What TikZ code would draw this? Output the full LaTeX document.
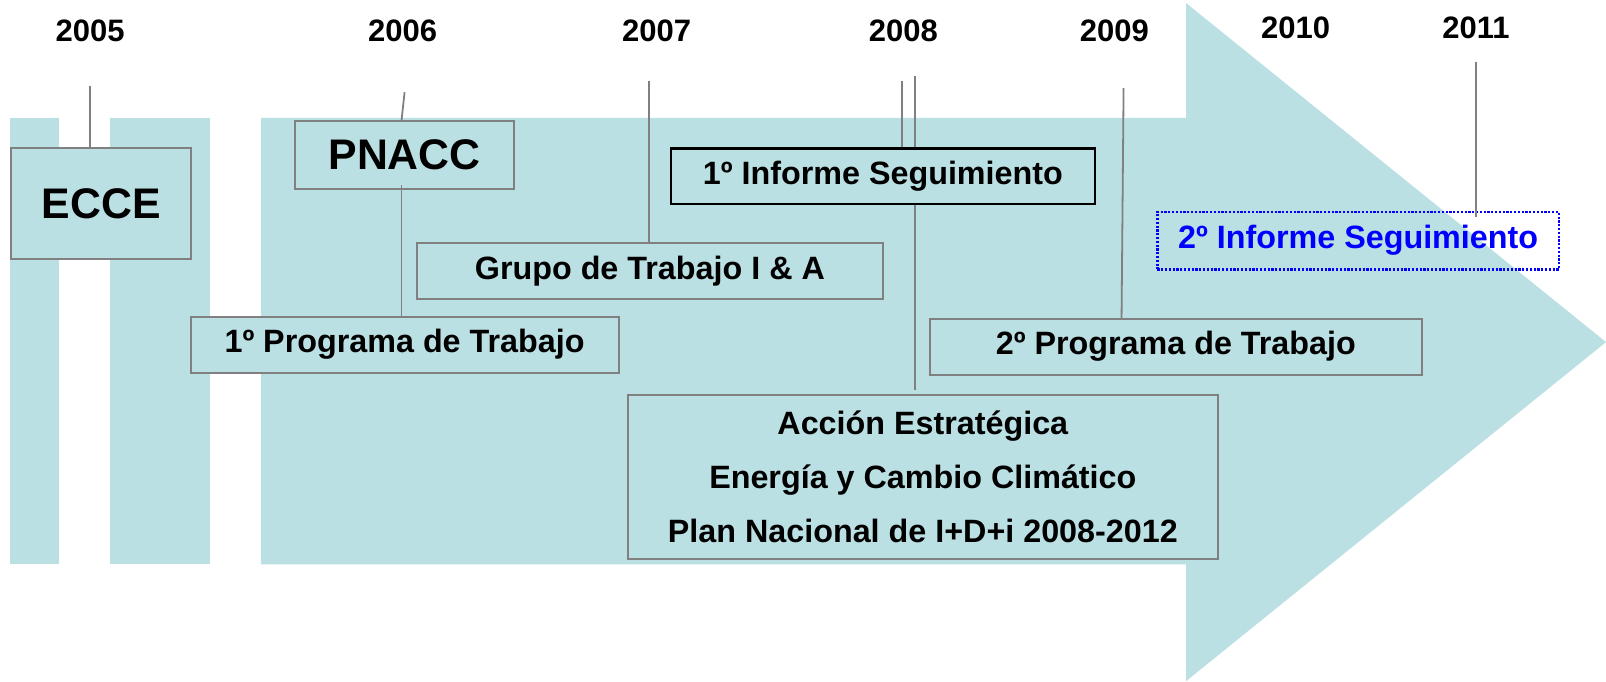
\documentclass[tikz,border=0pt]{standalone}
\usepackage{fontspec}
\setmainfont{Liberation Sans}
\definecolor{bg}{RGB}{187,224,227}
\definecolor{boxgray}{RGB}{128,128,128}
\definecolor{infblue}{RGB}{0,0,255}
\begin{document}
\begin{tikzpicture}[x=1.02423pt,y=-1.02423pt,
  year/.style={font=\fontsize{31}{37}\selectfont\bfseries, inner sep=0},
  evbox/.style={draw=boxgray, line width=2pt, fill=bg, inner sep=0,
    font=\fontsize{32.3}{38}\selectfont\bfseries, align=center},
  bigbox/.style={evbox, font=\fontsize{42.8}{50}\selectfont\bfseries},
  conn/.style={draw=boxgray, line width=1.8pt}]
\useasboundingbox (0,0) rectangle (1568,665);
% background
\fill[bg] (10,115) rectangle (58,551);
\fill[bg] (107,115) rectangle (205,551);
\fill[bg] (255,115) -- (1158,115) -- (1158,3) -- (1568,334) -- (1158,665) -- (1158,551) -- (255,551) -- cycle;
% years
\node[year] (y05) at (88,30) {2005};
\node[year] (y06) at (393,30) {2006};
\node[year] (y07) at (641,30) {2007};
\node[year] (y08) at (882,30) {2008};
\node[year] (y09) at (1088,30) {2009};
\node[year] (y10) at (1265,27) {2010};
\node[year] (y11) at (1441,27) {2011};
% boxes
\node[bigbox, minimum width=180pt, minimum height=111.6pt] (ecce) at (99,198.5) {ECCE};
\node[bigbox, minimum width=219pt, minimum height=68.6pt] (pnacc) at (395,151.5) {PNACC};
\node[evbox, minimum width=466pt, minimum height=56.3pt] (grupo) at (634.5,264.5) {Grupo de Trabajo I \& A};
\node[evbox, minimum width=428pt, minimum height=56.3pt] (prog1) at (395,336.5) {1º Programa de Trabajo};
\node[evbox, draw=black, line width=2.4pt, minimum width=424pt, minimum height=55.3pt] (inf1) at (862,172) {1º Informe Seguimiento};
\node[evbox, fill=none, draw=infblue, text=infblue, line width=2.2pt, dash pattern=on 2.2pt off 1.6pt, minimum width=401.5pt, minimum height=57.4pt] (inf2) at (1326,235) {2º Informe Seguimiento};
\node[evbox, minimum width=491.6pt, minimum height=56.3pt] (prog2) at (1148,338.5) {2º Programa de Trabajo};
\node[evbox, minimum width=590pt, minimum height=163.9pt, font=\fontsize{32.3}{54.3}\selectfont\bfseries] (accion) at (901,465.5)
  {Acción Estratégica\\Energía y Cambio Climático\\Plan Nacional de I+D+i 2008-2012};
% connectors
\coordinate (c05) at (88,84);
\coordinate (c06) at (395,90);
\coordinate (c06b) at (392,118);
\coordinate (c06c) at (392,181);
\coordinate (c07) at (634,79);
\coordinate (c08a) at (881,79);
\coordinate (c08b) at (893,74);
\coordinate (c09) at (1097,86);
\coordinate (c09b) at (1095,311);
\coordinate (c11) at (1441,61);
\coordinate (c11b) at (1441,212);
\draw[conn] (c05) -- (c05 |- ecce.north);
\draw[conn] (c06) -- (c06b);
\draw[conn] (c06c) -- (c06c |- prog1.north);
\draw[conn] (c07) -- (c07 |- grupo.north);
\draw[conn] (c08a) -- (c08a |- inf1.north);
\draw[conn] (c08b) -- (c08b |- inf1.north);
\draw[conn] (c08b |- inf1.south) -- ([yshift=4pt]c08b |- accion.north);
\draw[conn] (c09) -- (c09b);
\draw[conn] (c11) -- (c11b);
\end{tikzpicture}
\end{document}
